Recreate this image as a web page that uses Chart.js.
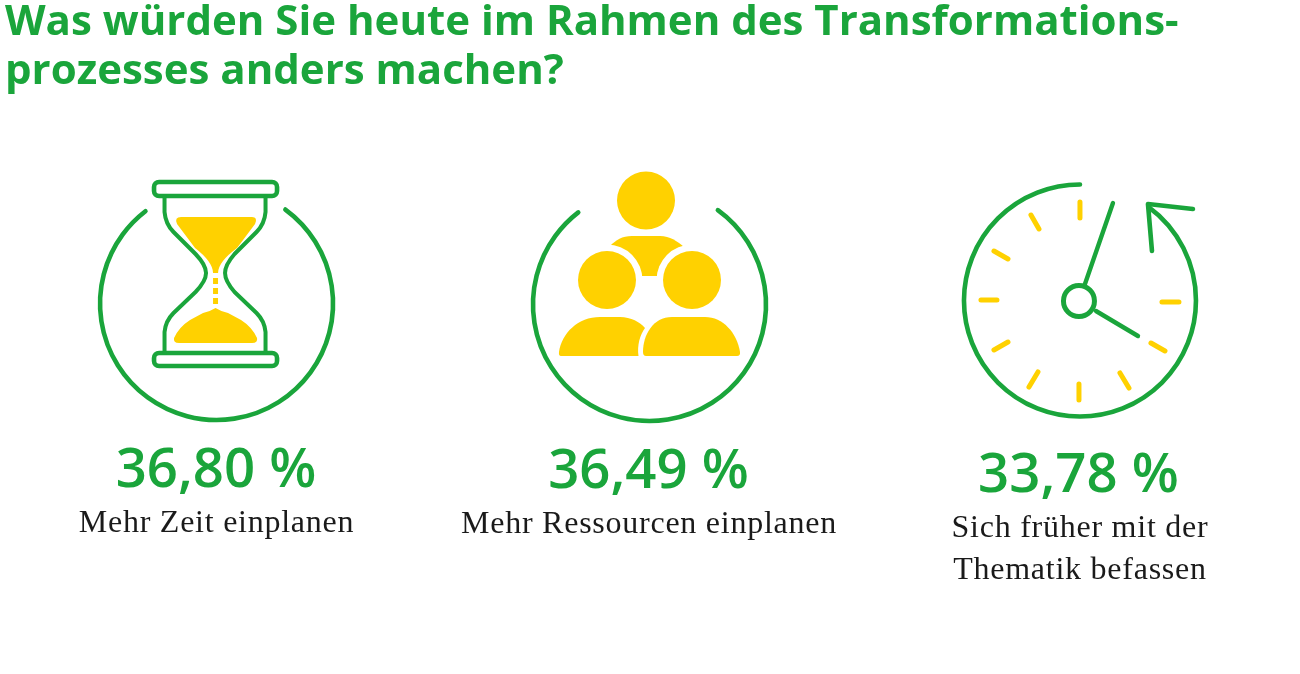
<!DOCTYPE html>
<html lang="de"><head><meta charset="utf-8">
<style>html,body{margin:0;padding:0;background:#fff}canvas{display:block}</style>
<script src="https://cdn.jsdelivr.net/npm/chart.js@4/dist/chart.umd.min.js"></script>
</head><body>
<canvas id="c" width="1300" height="674" style="width:1300px;height:674px"></canvas>
<script>
const titleLines = ['Was würden Sie heute im Rahmen des Transformations-', 'prozesses anders machen?'];
const categories = ['Mehr Zeit einplanen', 'Mehr Ressourcen einplanen', 'Sich früher mit der Thematik befassen'];
const labelLines = [['Mehr Zeit einplanen'], ['Mehr Ressourcen einplanen'], ['Sich früher mit der', 'Thematik befassen']];
const shares = [36.80, 36.49, 33.78];

const GREEN = '#1aa53b', YELLOW = '#ffd100';
const fmt = v => v.toFixed(2).replace('.', ',') + ' %';

function ring(ctx, cx, cy, r, x1, y1, x2, y2, ccw) {
  ctx.beginPath();
  ctx.arc(cx, cy, r, Math.atan2(y1 - cy, x1 - cx), Math.atan2(y2 - cy, x2 - cx), !!ccw);
  ctx.stroke();
}
function rr(ctx, x, y, w, h, r) { ctx.beginPath(); ctx.roundRect(x, y, w, h, r); ctx.stroke(); }
function seg(ctx, a, b, c, d) { ctx.beginPath(); ctx.moveTo(a, b); ctx.lineTo(c, d); ctx.stroke(); }

function hourglass(ctx) {
  ctx.strokeStyle = GREEN; ctx.lineWidth = 4.6;
  ring(ctx, 216.5, 303.5, 116.5, 285, 210, 146, 212);
  rr(ctx, 154, 182, 123, 14, 5);
  rr(ctx, 154, 353, 123, 13, 5);
  ctx.lineWidth = 4;
  [[164.5, 1, 206], [265.5, -1, 225]].forEach(s => {
    const e = s[0], d = s[1], n = s[2];
    ctx.beginPath();
    ctx.moveTo(e, 197); ctx.lineTo(e, 212);
    ctx.quadraticCurveTo(e + d * 1, 224, e + d * 9, 232);
    ctx.lineTo(e + d * 31, 254);
    ctx.quadraticCurveTo(n, 265, n, 273);
    ctx.quadraticCurveTo(n, 281, e + d * 31, 292);
    ctx.lineTo(e + d * 9, 313);
    ctx.quadraticCurveTo(e + d * 1, 321, e, 332);
    ctx.lineTo(e, 353);
    ctx.stroke();
  });
  ctx.fillStyle = YELLOW;
  ctx.beginPath();
  ctx.moveTo(181, 217); ctx.lineTo(252, 217);
  ctx.quadraticCurveTo(258, 217, 255, 224);
  ctx.lineTo(237, 248);
  ctx.quadraticCurveTo(218, 262, 218, 273);
  ctx.lineTo(213, 273);
  ctx.quadraticCurveTo(213, 262, 195, 248);
  ctx.lineTo(177, 224);
  ctx.quadraticCurveTo(174, 217, 181, 217);
  ctx.fill();
  ctx.fillRect(213, 278, 5, 6); ctx.fillRect(213, 288, 5, 6); ctx.fillRect(213, 298, 5, 6);
  ctx.beginPath();
  ctx.moveTo(215.5, 308);
  ctx.quadraticCurveTo(222, 312, 228, 313);
  ctx.lineTo(241, 320);
  ctx.quadraticCurveTo(252, 327, 257, 338);
  ctx.quadraticCurveTo(258, 343, 252, 343);
  ctx.lineTo(179, 343);
  ctx.quadraticCurveTo(173, 343, 174, 338);
  ctx.quadraticCurveTo(179, 327, 190, 320);
  ctx.lineTo(203, 313);
  ctx.quadraticCurveTo(209, 312, 215.5, 308);
  ctx.fill();
}

function people(ctx) {
  ctx.strokeStyle = GREEN; ctx.lineWidth = 4.6; ctx.lineCap = 'round';
  ring(ctx, 649.5, 304.5, 116.5, 718, 210, 578, 212);
  ctx.fillStyle = YELLOW;
  ctx.beginPath();
  ctx.moveTo(610, 246);
  ctx.bezierCurveTo(616, 240, 622, 236, 632, 236);
  ctx.lineTo(660, 236);
  ctx.bezierCurveTo(670, 236, 677, 241, 684, 247);
  ctx.lineTo(680, 276); ctx.lineTo(620, 276);
  ctx.closePath(); ctx.fill();
  ctx.fillStyle = '#fff';
  ctx.beginPath(); ctx.arc(607, 280, 35.5, 0, 2 * Math.PI); ctx.fill();
  ctx.beginPath(); ctx.arc(692, 280, 35.5, 0, 2 * Math.PI); ctx.fill();
  ctx.fillStyle = YELLOW;
  [[646, 200.5], [607, 280], [692, 280]].forEach(h => {
    ctx.beginPath(); ctx.arc(h[0], h[1], 29, 0, 2 * Math.PI); ctx.fill();
  });
  ctx.beginPath();
  ctx.moveTo(561, 356); ctx.quadraticCurveTo(558.5, 356, 559, 352);
  ctx.bezierCurveTo(562, 333, 578, 317, 600, 317);
  ctx.lineTo(620, 317);
  ctx.bezierCurveTo(631, 317, 640, 322, 645, 328);
  ctx.bezierCurveTo(640, 335, 637, 345, 638.5, 356);
  ctx.closePath(); ctx.fill();
  ctx.beginPath();
  ctx.moveTo(646, 356); ctx.quadraticCurveTo(643, 356, 643, 352);
  ctx.bezierCurveTo(643, 335, 653, 317, 672, 317);
  ctx.lineTo(705, 317);
  ctx.bezierCurveTo(723, 317, 737, 333, 740, 352);
  ctx.quadraticCurveTo(740.5, 356, 737, 356);
  ctx.closePath(); ctx.fill();
}

function clock(ctx) {
  ctx.strokeStyle = GREEN; ctx.lineWidth = 4.6; ctx.lineCap = 'round';
  ring(ctx, 1080, 300.5, 116, 1080, 184, 1149, 206, true);
  ctx.beginPath(); ctx.moveTo(1193, 209); ctx.lineTo(1148, 204); ctx.lineTo(1152, 251); ctx.stroke();
  ctx.lineWidth = 5;
  ctx.beginPath(); ctx.arc(1079, 301, 15.5, 0, 2 * Math.PI); ctx.stroke();
  ctx.lineWidth = 4.4;
  seg(ctx, 1085, 284, 1113, 203);
  seg(ctx, 1096, 311, 1138, 336);
  ctx.strokeStyle = YELLOW; ctx.lineWidth = 5;
  [[1080,202,1080,218],[1031,215,1039,229],[994,251,1008,259],[981,300,997,300],[994,350,1008,342],
   [1029,387,1038,372],[1079,384,1079,400],[1120,373,1129,388],[1151,343,1165,351],[1162,302,1179,302]]
    .forEach(t => seg(ctx, t[0], t[1], t[2], t[3]));
}

const icons = [hourglass, people, clock];
const anchors = [220.8, 652.5, 1084.2];
const valueSpots = [[216, 487], [648.5, 487.5], [1078.5, 492]];
const labelSpots = [[216.5, 532], [649, 533], [1080, 537]];

const infographic = {
  id: 'infographic',
  afterDatasetsDraw(chart) {
    const ctx = chart.ctx, xs = chart.scales.x;
    shares.forEach((v, i) => {
      ctx.save();
      ctx.translate(xs.getPixelForValue(i) - anchors[i], 0);
      ctx.lineJoin = 'round'; ctx.lineCap = 'round';
      icons[i](ctx);
      ctx.textAlign = 'center'; ctx.textBaseline = 'alphabetic';
      ctx.fillStyle = GREEN;
      ctx.font = '600 54.5px "Open Sans"';
      ctx.fillText(fmt(v), valueSpots[i][0], valueSpots[i][1]);
      ctx.fillStyle = '#1a1a1a';
      ctx.font = '32px "Liberation Serif"';
      ctx.letterSpacing = '0.75px';
      labelLines[i].forEach((t, k) => ctx.fillText(t, labelSpots[i][0], labelSpots[i][1] + k * 42));
      ctx.restore();
    });
  }
};

new Chart(document.getElementById('c'), {
  type: 'line',
  data: { labels: categories, datasets: [{ label: 'Anteil', data: shares, showLine: false, pointRadius: 0, pointHoverRadius: 0 }] },
  options: {
    responsive: false, animation: false, devicePixelRatio: 1,
    layout: { padding: { left: 5, right: 0, top: 0, bottom: 0 } },
    events: [],
    scales: { x: { display: false, offset: true }, y: { display: false, min: 0, max: 100 } },
    plugins: {
      legend: { display: false }, tooltip: { enabled: false },
      title: { display: true, text: titleLines, align: 'start', color: GREEN,
        font: { family: '"Open Sans"', size: 42, weight: 'bold', lineHeight: 1.18 }, padding: { top: -2, bottom: 0 } }
    }
  },
  plugins: [infographic]
});
</script>
</body></html>
